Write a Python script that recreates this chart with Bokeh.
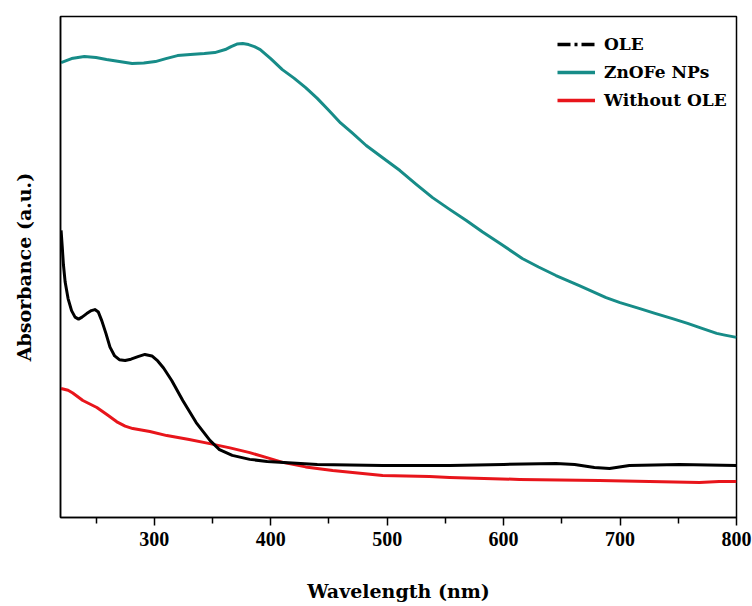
from bokeh.plotting import figure
from bokeh.models import Range1d, FixedTicker, Legend, LegendItem, ColumnDataSource
from bokeh.embed import file_html
from bokeh.resources import INLINE

# ---- data ----
zn_nm = [220, 229, 240, 250, 259, 270, 281, 291, 301, 310, 320, 331, 343, 352, 361, 366, 371,
         376, 381, 386, 391, 400, 410, 420, 430, 440, 450, 460, 470, 482, 495, 511, 525, 539,
         553, 568, 582, 597, 616, 630, 645, 665, 688, 700, 717, 730, 745, 758, 771, 783, 790, 800]
zn_abs = [1.816, 1.832, 1.840, 1.836, 1.828, 1.820, 1.812, 1.814, 1.820, 1.832, 1.844, 1.848,
          1.852, 1.856, 1.868, 1.880, 1.890, 1.892, 1.888, 1.880, 1.868, 1.832, 1.788, 1.754,
          1.716, 1.673, 1.625, 1.575, 1.535, 1.485, 1.440, 1.385, 1.330, 1.277, 1.232, 1.186,
          1.140, 1.094, 1.034, 1.000, 0.966, 0.926, 0.878, 0.858, 0.834, 0.815, 0.794, 0.775,
          0.754, 0.735, 0.728, 0.719]

ole_nm = [220, 221, 222, 223.5, 226, 229, 232, 235, 238, 242, 246, 249, 252, 255, 258.5, 262,
          266, 270, 275, 280, 286, 292, 298, 303, 308, 315, 324.5, 336, 348, 356, 367, 382, 397,
          440, 496, 554, 600, 645, 661, 678, 691, 708, 751, 800]
ole_abs = [1.146, 1.080, 1.010, 0.940, 0.874, 0.826, 0.800, 0.792, 0.800, 0.814, 0.826, 0.830,
           0.820, 0.785, 0.735, 0.680, 0.645, 0.630, 0.627, 0.632, 0.642, 0.651, 0.645, 0.625,
           0.597, 0.547, 0.467, 0.379, 0.307, 0.271, 0.248, 0.232, 0.224, 0.212, 0.208, 0.208,
           0.212, 0.216, 0.212, 0.200, 0.196, 0.208, 0.212, 0.208]

wo_nm = [220, 226, 230, 238.7, 250.7, 259.3, 267.9, 275, 281.6, 296.2, 310.8, 330, 347.7, 365,
         382.0, 396, 410.3, 430, 453.2, 496.1, 536.4, 553.6, 613.6, 682.3, 725.2, 768.1, 785.2, 800]
wo_abs = [0.515, 0.508, 0.497, 0.467, 0.439, 0.411, 0.382, 0.365, 0.355, 0.343, 0.327, 0.311,
          0.295, 0.278, 0.259, 0.240, 0.220, 0.202, 0.188, 0.168, 0.164, 0.160, 0.152, 0.148,
          0.144, 0.140, 0.144, 0.144]

x_ticks = [300, 400, 500, 600, 700, 800]
x_minor = [250, 350, 450, 550, 650, 750]
labels = ["OLE", "ZnOFe NPs", "Without OLE"]

TEAL = "#178C88"
RED = "#E8151B"
SERIF = "DejaVu Serif"

p = figure(width=752, height=606, output_backend="svg", toolbar_location=None,
           x_range=Range1d(219.5, 800), y_range=Range1d(0, 2.0),
           min_border_left=60, min_border_right=16, min_border_top=16, min_border_bottom=89)

p.xgrid.visible = False
p.ygrid.visible = False
p.outline_line_color = "black"
p.outline_line_width = 1.5
p.background_fill_color = "white"
p.border_fill_color = "white"

r_zn = p.line(zn_nm, zn_abs, line_color=TEAL, line_width=3, line_join="round")
r_wo = p.line(wo_nm, wo_abs, line_color=RED, line_width=3, line_join="round")
r_ole = p.line(ole_nm, ole_abs, line_color="black", line_width=3, line_join="round")

# x axis
xa = p.xaxis[0]
xa.ticker = FixedTicker(ticks=x_ticks, minor_ticks=x_minor)
xa.axis_line_color = "black"
xa.axis_line_width = 1.5
xa.major_tick_in = 0
xa.major_tick_out = 8
xa.minor_tick_in = 0
xa.minor_tick_out = 6
xa.major_tick_line_width = 1.5
xa.minor_tick_line_width = 1.5
xa.major_tick_line_color = "black"
xa.minor_tick_line_color = "black"
xa.major_label_text_font = "Liberation Serif"
xa.major_label_text_font_style = "bold"
xa.major_label_text_font_size = "20px"
xa.major_label_text_color = "black"
xa.major_label_text_line_height = 1.0
xa.major_label_standoff = 6
xa.axis_label = "Wavelength (nm)"
xa.axis_label_text_font = SERIF
xa.axis_label_text_font_style = "bold"
xa.axis_label_text_font_size = "19px"
xa.axis_label_text_color = "black"
xa.axis_label_text_line_height = 1.0
xa.axis_label_standoff = 31

# y axis
ya = p.yaxis[0]
ya.ticker = FixedTicker(ticks=[])
ya.axis_line_color = "black"
ya.axis_line_width = 1.5
ya.major_tick_out = 0
ya.major_tick_in = 0
ya.minor_tick_out = 0
ya.minor_tick_in = 0
ya.major_label_text_font_size = "0px"
ya.axis_label = "Absorbance (a.u.)"
ya.axis_label_text_font = SERIF
ya.axis_label_text_font_style = "bold"
ya.axis_label_text_font_size = "19px"
ya.axis_label_text_color = "black"
ya.axis_label_standoff = 26

# legend (OLE shown with a dash-dot key as in the reference)
nan = float("nan")
k_ole = p.line("x", "y", source=ColumnDataSource(data=dict(x=[nan], y=[nan])),
               line_color="black", line_width=3.5, line_dash="13 4 3 4")
k_zn = p.line("x", "y", source=ColumnDataSource(data=dict(x=[nan], y=[nan])),
              line_color=TEAL, line_width=3.5)
k_wo = p.line("x", "y", source=ColumnDataSource(data=dict(x=[nan], y=[nan])),
              line_color=RED, line_width=3.5)

legend = Legend(items=[LegendItem(label=labels[0], renderers=[k_ole]),
                       LegendItem(label=labels[1], renderers=[k_zn]),
                       LegendItem(label=labels[2], renderers=[k_wo])],
                location=(497, 407))
legend.border_line_color = None
legend.background_fill_alpha = 0
legend.padding = 0
legend.margin = 0
legend.spacing = 8
legend.glyph_width = 38
legend.glyph_height = 20
legend.label_height = 20
legend.label_standoff = 9
legend.label_text_font = SERIF
legend.label_text_font_style = "bold"
legend.label_text_font_size = "17px"
legend.label_text_color = "black"
p.add_layout(legend, "center")

open("out.html", "w").write(file_html(p, INLINE))
